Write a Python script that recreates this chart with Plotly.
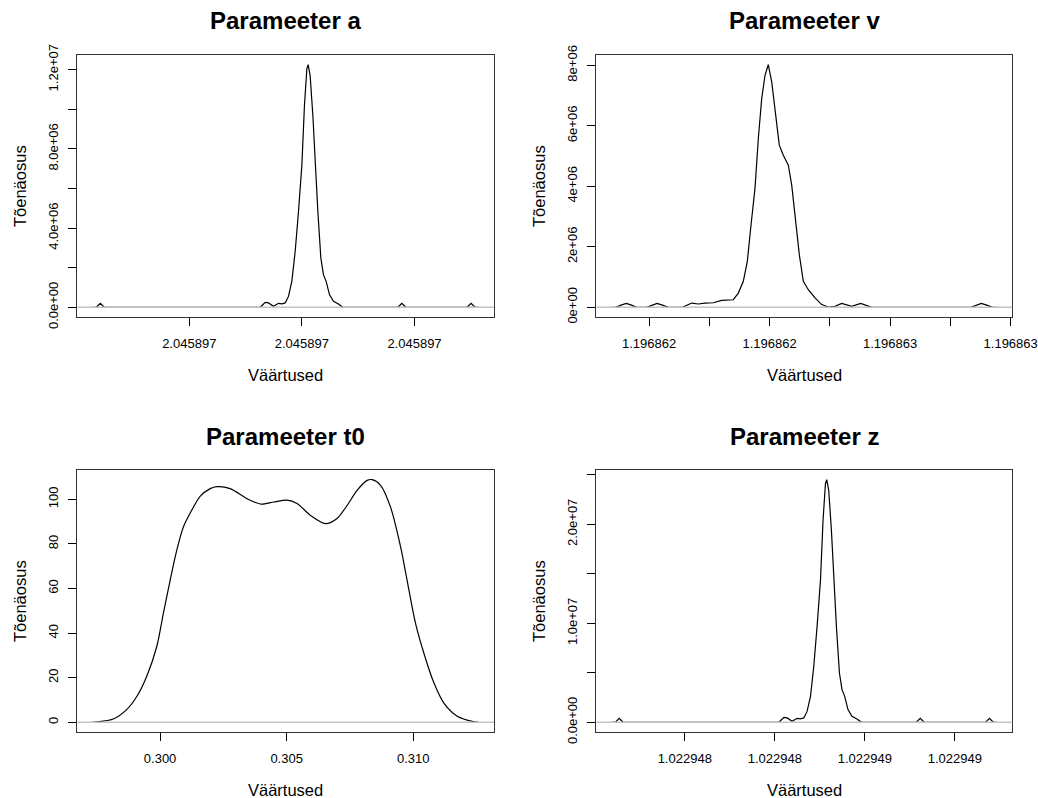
import plotly.graph_objects as go

W, H = 1038, 798

# ---- Parameeter a ----
a_x = [2.0458966286, 2.0458966349, 2.0458966420, 2.0458966491,
       2.0458969260, 2.0458969349, 2.0458969407, 2.0458969496, 2.0458969585,
       2.0458969645, 2.0458969704, 2.0458969762, 2.0458969822, 2.0458969881,
       2.0458969940, 2.0458970000, 2.0458970046, 2.0458970089, 2.0458970112,
       2.0458970147, 2.0458970195, 2.0458970236, 2.0458970284, 2.0458970337,
       2.0458970383, 2.0458970431, 2.0458970490, 2.0458970561, 2.0458970650,
       2.0458970728, 2.0458971704, 2.0458971775, 2.0458971846,
       2.0458972934, 2.0458973005, 2.0458973076, 2.0458973138]
a_y = [0.0, 0.0, 0.2e6, 0.0,
       0.0, 0.25e6, 0.22e6, 0.05e6, 0.2e6,
       0.17e6, 0.22e6, 0.55e6, 1.31e6, 2.82e6,
       4.83e6, 7.18e6, 10.2e6, 12.05e6, 12.25e6,
       11.7e6, 9.7e6, 7.35e6, 4.83e6, 2.49e6,
       1.65e6, 1.31e6, 0.64e6, 0.3e6, 0.17e6,
       0.0, 0.0, 0.2e6, 0.0,
       0.0, 0.2e6, 0.0, 0.0]
a_xticks = [2.0458968, 2.0458970, 2.0458972]
a_xlabels = ["2.045897", "2.045897", "2.045897"]
a_yticks = [0, 2e6, 4e6, 6e6, 8e6, 10e6, 12e6]
a_ylabels = ["0.0e+00", "", "4.0e+06", "", "8.0e+06", "", "1.2e+07"]

# ---- Parameeter v ----
v_x = [1.1968618762, 1.1968618905, 1.1968619071, 1.1968619247, 1.1968619419,
       1.1968619592, 1.1968619924, 1.1968620100, 1.1968620265, 1.1968620448,
       1.1968620640, 1.1968621105, 1.1968621417, 1.1968621636, 1.1968621858,
       1.1968622133, 1.1968622412, 1.1968622797, 1.1968622963, 1.1968623129,
       1.1968623262, 1.1968623374, 1.1968623517, 1.1968623627, 1.1968623739,
       1.1968623849, 1.1968623958, 1.1968624071, 1.1968624181, 1.1968624323,
       1.1968624456, 1.1968624622, 1.1968624735, 1.1968624844, 1.1968624987,
       1.1968625120, 1.1968625286, 1.1968625508, 1.1968625730, 1.1968625949,
       1.1968626171, 1.1968626394, 1.1968626726, 1.1968627024, 1.1968627200,
       1.1968627389, 1.1968630674, 1.1968630850, 1.1968631026, 1.1968631205,
       1.1968631391, 1.1968631543]
v_y = [0.0, 0.0, 0.07e6, 0.13e6, 0.07e6,
       0.0, 0.0, 0.07e6, 0.13e6, 0.07e6,
       0.0, 0.0, 0.14e6, 0.11e6, 0.14e6,
       0.15e6, 0.23e6, 0.25e6, 0.47e6, 0.86e6,
       1.52e6, 2.62e6, 3.94e6, 5.58e6, 6.90e6,
       7.67e6, 8.02e6, 7.45e6, 6.46e6, 5.36e6,
       5.03e6, 4.70e6, 4.04e6, 3.06e6, 1.74e6,
       0.86e6, 0.58e6, 0.31e6, 0.09e6, 0.01e6,
       0.03e6, 0.13e6, 0.03e6, 0.13e6, 0.06e6,
       0.0, 0.0, 0.07e6, 0.13e6, 0.07e6,
       0.0, 0.0]
v_xticks = [1.1968620, 1.1968622, 1.1968624, 1.1968626, 1.1968628, 1.1968630, 1.1968632]
v_xlabels = ["1.196862", "", "1.196862", "", "1.196863", "", "1.196863"]
v_yticks = [0, 2e6, 4e6, 6e6, 8e6]
v_ylabels = ["0e+00", "2e+06", "4e+06", "6e+06", "8e+06"]

# ---- Parameeter t0 ----
t0_x = [0.29734, 0.2976, 0.29815, 0.29868, 0.29908, 0.29947, 0.29987, 0.30013,
        0.3004, 0.30066, 0.30092, 0.30125, 0.30158, 0.30198, 0.30224, 0.30277,
        0.30343, 0.30396, 0.30449, 0.30501, 0.30541, 0.30594, 0.30653, 0.30699,
        0.30739, 0.30778, 0.30818, 0.30838, 0.30871, 0.3091, 0.3095, 0.30983,
        0.31009, 0.31042, 0.31082, 0.31121, 0.31174, 0.31237, 0.31258]
t0_y = [0.02, 0.3, 1.5, 5.7, 11.6, 20.6, 34.0, 48.9,
        63.8, 77.2, 87.6, 95.1, 101.3, 104.8, 105.7, 104.8,
        100.3, 97.9, 98.8, 99.6, 98.1, 92.8, 89.1, 91.4,
        97.3, 104.0, 108.5, 108.8, 106.3, 96.6, 78.7, 59.3,
        44.4, 31.0, 17.6, 8.6, 2.7, 0.3, 0.02]
t0_xticks = [0.300, 0.305, 0.310]
t0_xlabels = ["0.300", "0.305", "0.310"]
t0_yticks = [0, 20, 40, 60, 80, 100]
t0_ylabels = ["0", "20", "40", "60", "80", "100"]

# ---- Parameeter z ----
z_x = [1.0229480377, 1.0229480455, 1.0229480543, 1.0229480632,
       1.0229484091, 1.0229484202, 1.0229484275, 1.0229484386, 1.0229484497,
       1.0229484572, 1.0229484645, 1.0229484718, 1.0229484794, 1.0229484867,
       1.0229484940, 1.0229485016, 1.0229485073, 1.0229485126, 1.0229485155,
       1.0229485200, 1.0229485259, 1.0229485310, 1.0229485370, 1.0229485437,
       1.0229485494, 1.0229485554, 1.0229485627, 1.0229485716, 1.0229485827,
       1.0229485925, 1.0229487144, 1.0229487233, 1.0229487322,
       1.0229488681, 1.0229488769, 1.0229488858, 1.0229488936]
z_y = [0.0, 0.0, 0.4e6, 0.0,
       0.0, 0.5e6, 0.44e6, 0.1e6, 0.4e6,
       0.34e6, 0.44e6, 1.1e6, 2.62e6, 5.64e6,
       9.66e6, 14.36e6, 20.4e6, 24.1e6, 24.5e6,
       23.4e6, 19.4e6, 14.7e6, 9.66e6, 4.98e6,
       3.3e6, 2.62e6, 1.28e6, 0.6e6, 0.34e6,
       0.0, 0.0, 0.4e6, 0.0,
       0.0, 0.4e6, 0.0, 0.0]
z_xticks = [1.0229482, 1.0229484, 1.0229486, 1.0229488]
z_xlabels = ["1.022948", "1.022948", "1.022949", "1.022949"]
z_yticks = [0, 5e6, 10e6, 15e6, 20e6, 25e6]
z_ylabels = ["0.0e+00", "", "1.0e+07", "", "2.0e+07", ""]

titles = ["Parameeter a", "Parameeter v", "Parameeter t0", "Parameeter z"]
FONT = "Liberation Sans, Arial, sans-serif"


def padded(vals):
    lo, hi = min(vals), max(vals)
    pad = 0.04 * (hi - lo)
    return [lo - pad, hi + pad]


# plot boxes in pixels: (left, top, right, bottom)
boxes = [(77.3, 55, 494, 317), (596.3, 55, 1012.3, 317),
         (77.3, 470, 494, 732), (596.3, 470, 1012.3, 732)]

panels = [
    (a_x, a_y, a_xticks, a_xlabels, a_yticks, a_ylabels, "linear"),
    (v_x, v_y, v_xticks, v_xlabels, v_yticks, v_ylabels, "linear"),
    (t0_x, t0_y, t0_xticks, t0_xlabels, t0_yticks, t0_ylabels, "spline"),
    (z_x, z_y, z_xticks, z_xlabels, z_yticks, z_ylabels, "linear"),
]

fig = go.Figure()
layout = dict(
    template="none",
    width=W, height=H, margin=dict(l=0, r=0, t=0, b=0, autoexpand=False),
    paper_bgcolor="white", plot_bgcolor="white", showlegend=False,
    font=dict(family=FONT, color="black"),
)
annotations = []
shapes = []

for i, (xs, ys, xt, xl, yt, yl, shape) in enumerate(panels):
    n = "" if i == 0 else str(i + 1)
    left, top, right, bottom = boxes[i]
    line = dict(color="black", width=1.2, shape=shape)
    if shape == "spline":
        line["smoothing"] = 0.8
    fig.add_trace(go.Scatter(x=xs, y=ys, mode="lines", line=line,
                             xaxis="x" + n, yaxis="y" + n, hoverinfo="skip"))
    common = dict(
        tickmode="array", ticks="outside", ticklen=8, tickwidth=1, tickcolor="black",
        showline=True, mirror=True, linecolor="#333333", linewidth=1,
        showgrid=False, zeroline=False, automargin=False,
        tickfont=dict(size=13, family=FONT, color="black"),
    )
    layout["xaxis" + n] = dict(
        domain=[left / W, right / W], anchor="y" + n, range=padded(xs),
        tickvals=xt, ticktext=xl, ticklabelstandoff=6, **common,
    )
    layout["yaxis" + n] = dict(
        domain=[1 - bottom / H, 1 - top / H], anchor="x" + n, range=padded(ys),
        tickvals=yt, ticktext=yl, tickangle=-90, ticklabelstandoff=5, **common,
    )
    # zero reference line across the plot region
    shapes.append(dict(type="line", xref="x" + n + " domain", yref="y" + n,
                       x0=0, x1=1, y0=0, y1=0, layer="above",
                       line=dict(color="#c4c4c4", width=1.5)))
    cx = (left + right) / 2 / W
    title_y = 20 if i < 2 else 436.5
    annotations.append(dict(text="<b>" + titles[i] + "</b>", x=cx, y=1 - title_y / H,
                            xref="paper", yref="paper", showarrow=False,
                            xanchor="center", yanchor="middle",
                            font=dict(size=24, family=FONT, color="black")))
    xlab_y = 375 if i < 2 else 790
    annotations.append(dict(text="Väärtused", x=cx, y=1 - xlab_y / H,
                            xref="paper", yref="paper", showarrow=False,
                            xanchor="center", yanchor="middle",
                            font=dict(size=16.5, family=FONT, color="black")))
    ylab_x = 20 if i % 2 == 0 else 539
    annotations.append(dict(text="Tõenäosus", x=ylab_x / W, y=1 - (top + bottom) / 2 / H,
                            xref="paper", yref="paper", showarrow=False, textangle=-90,
                            xanchor="center", yanchor="middle",
                            font=dict(size=16.5, family=FONT, color="black")))

layout["annotations"] = annotations
layout["shapes"] = shapes
fig.update_layout(**layout)
fig.write_html("out.html")
